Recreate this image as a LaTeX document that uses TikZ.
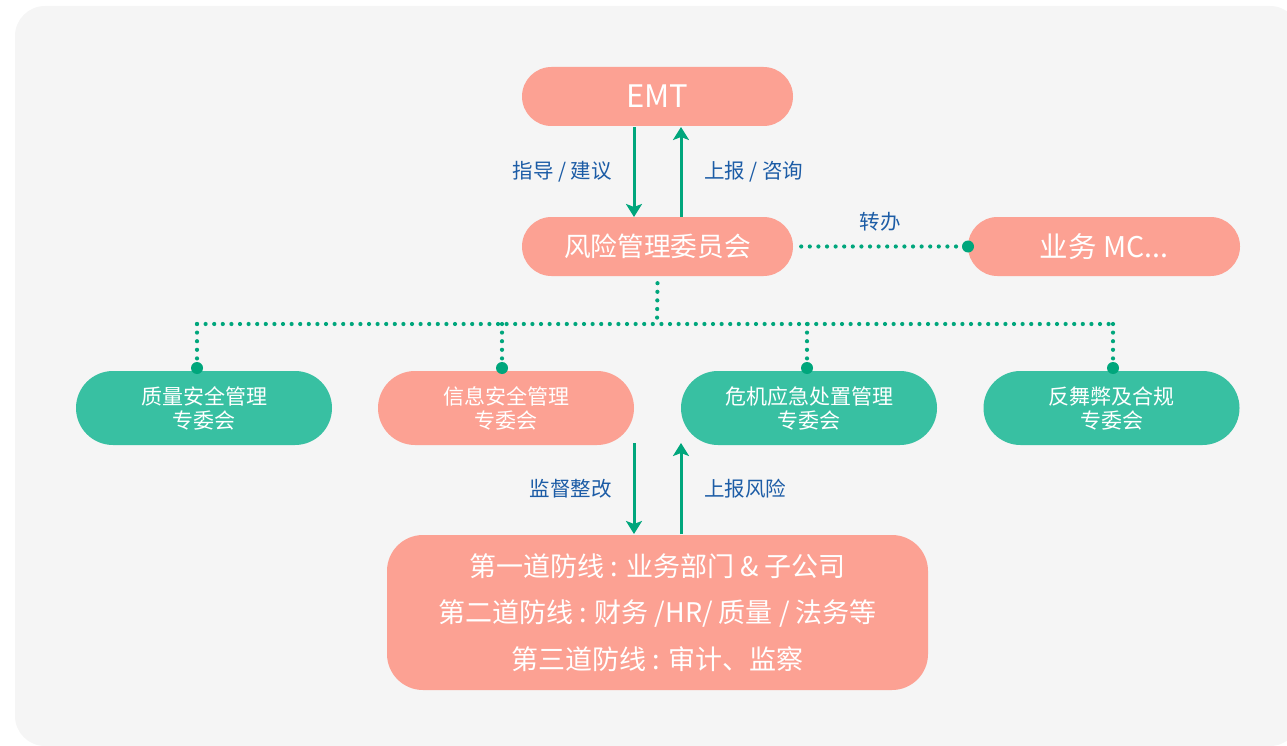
\documentclass[tikz,border=0pt]{standalone}
\usepackage{fontspec}
\setmainfont{Noto Sans CJK SC}
\usetikzlibrary{arrows.meta}
\definecolor{bgc}{HTML}{F5F5F5}
\definecolor{salmon}{HTML}{FCA193}
\definecolor{mint}{HTML}{38C0A2}
\definecolor{dgreen}{HTML}{00A67C}
\definecolor{lblue}{HTML}{1C5CA6}
\tikzset{
  pill/.style={fill=salmon, text=white, rounded corners=29.5pt, minimum width=271pt, minimum height=59pt, inner sep=0pt, font=\fontsize{26.7}{30}\selectfont},
  cbox/.style={rounded corners=37pt, minimum width=256pt, minimum height=74pt, inner sep=0pt, text=white, align=center, font=\fontsize{21}{24}\selectfont},
  flow/.style={draw=dgreen, line width=3pt, -{Stealth[length=13pt,width=16pt,inset=3pt]}},
  dots/.style={draw=dgreen, line width=4.2pt, line cap=round, dash pattern=on 0pt off 8.6pt},
  lab/.style={text=lblue, font=\fontsize{20.5}{24}\selectfont, inner sep=0pt},
  endpt/.style={circle, fill=dgreen, minimum size=12pt, inner sep=0pt}
}
\begin{document}
\begin{tikzpicture}[x=1pt,y=-1pt]
\useasboundingbox (0,0) rectangle (1287,746);
\fill[bgc, rounded corners=30pt] (15,6) rectangle (1300,746);
% top nodes
\node[pill, font=\fontsize{31}{34}\selectfont] (emt) at (657.5,96.5) {EMT};
\node[pill] (rmc) at (657.5,246.5) {风险管理委员会};
\node[pill, minimum width=272pt, font=\fontsize{28.5}{32}\selectfont] (mc) at (1104,246.5) {业务 MC...};
% committees
\node[cbox, fill=mint] (q) at (204,408) {质量安全管理\\专委会};
\node[cbox, fill=salmon] (i) at (506,408) {信息安全管理\\专委会};
\node[cbox, fill=mint] (c) at (809,408) {危机应急处置管理\\专委会};
\node[cbox, fill=mint] (f) at (1111.5,408) {反舞弊及合规\\专委会};
% bottom box
\node[fill=salmon, text=white, rounded corners=36pt, minimum width=541pt, minimum height=155pt, inner sep=0pt, align=center, font=\fontsize{27}{46.5}\selectfont] (lines) at (657.5,612.5)
 {第一道防线 : 业务部门 \& 子公司\\第二道防线 : 财务 /HR/ 质量 / 法务等\\第三道防线 : 审计、监察};
% arrows between EMT and RMC
\coordinate (a1) at (634,127); \coordinate (a2) at (634,217);
\coordinate (b1) at (681,217); \coordinate (b2) at (681,127);
\draw[flow] (a1) -- (a2);
\draw[flow] (b1) -- (b2);
\node[lab, anchor=east] (l1) at (612,172) {指导 / 建议};
\node[lab, anchor=west] (l2) at (704,172) {上报 / 咨询};
% arrows between committees and lines
\coordinate (c1) at (634,443); \coordinate (c2) at (634,534);
\coordinate (d1) at (681,534); \coordinate (d2) at (681,443);
\draw[flow] (c1) -- (c2);
\draw[flow] (d1) -- (d2);
\node[lab, anchor=east] (l3) at (612,489) {监督整改};
\node[lab, anchor=west] (l4) at (704,489) {上报风险};
% transfer
\node[endpt] (e0) at (968,246.5) {};
\draw[dots] (rmc.east) ++(8,0) -- (e0);
\node[lab] (l5) at (880,222) {转办};
% tree
\coordinate (hub) at (657,324);
\coordinate (hl) at (197,324);
\coordinate (hr) at (1113,324);
\node[endpt] (e1) at (197,368) {};
\node[endpt] (e2) at (502,368) {};
\node[endpt] (e3) at (807,368) {};
\node[endpt] (e4) at (1113,368) {};
\draw[dots] (rmc.south) ++(0,7) -- (hub);
\draw[dots] (hl) -- (hr);
\draw[dots] (hl) -- (e1);
\draw[dots] (502,324) -- (e2);
\draw[dots] (807,324) -- (e3);
\draw[dots] (hr) -- (e4);
\end{tikzpicture}
\end{document}
